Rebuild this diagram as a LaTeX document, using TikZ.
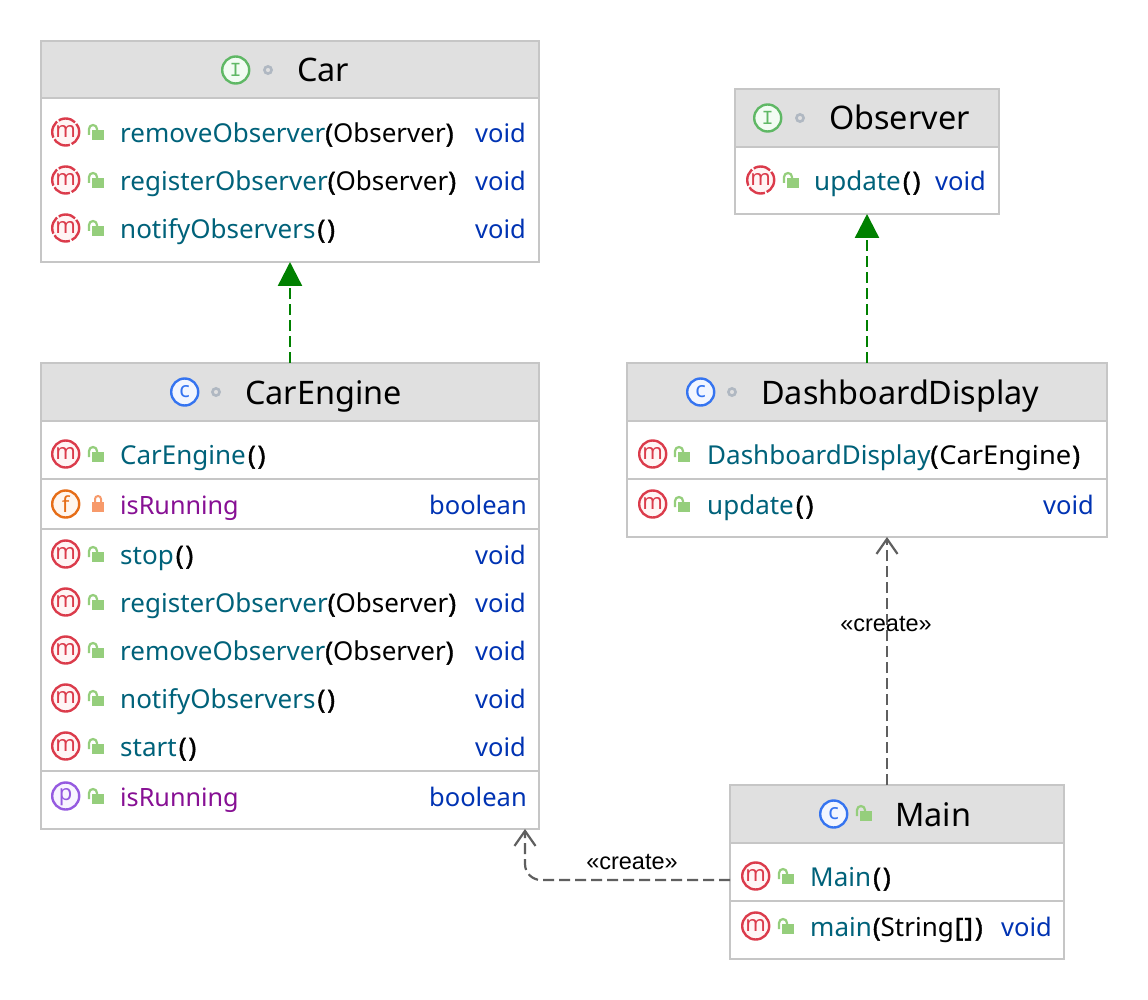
\documentclass[tikz,border=0pt]{standalone}
\usepackage{fontspec}
\setmainfont{Noto Sans}
\newfontfamily\labelfont{Liberation Sans}
\newfontfamily\ifamily{Liberation Mono}
\newfontfamily\heavy[FakeBold=1.5]{Noto Sans}
\usetikzlibrary{arrows.meta,calc}
\definecolor{boxline}{HTML}{C6C6C6}
\definecolor{headfill}{HTML}{E0E0E0}
\definecolor{mname}{HTML}{00627A}
\definecolor{fname}{HTML}{871094}
\definecolor{tname}{HTML}{0033B3}
\definecolor{mred}{HTML}{DB3B4B}
\definecolor{mfill}{HTML}{FFF5F5}
\definecolor{ford}{HTML}{E66D17}
\definecolor{ffill}{HTML}{FFF6EE}
\definecolor{pvio}{HTML}{955AE0}
\definecolor{pfill}{HTML}{F8F4FF}
\definecolor{cblue}{HTML}{3574F0}
\definecolor{cfill}{HTML}{F2F6FF}
\definecolor{igreen}{HTML}{5FB865}
\definecolor{ifill}{HTML}{F2FCF3}
\definecolor{lockg}{HTML}{95CE7C}
\definecolor{locko}{HTML}{F79A6B}
\definecolor{dotc}{HTML}{B0B8C2}
\definecolor{realize}{HTML}{008000}
\definecolor{depc}{HTML}{5F5F5F}
\tikzset{
  x=1pt,y=-1pt,
  classbox/.style={draw=boxline,line width=1.3pt,fill=white,inner sep=0pt,outer sep=0pt,anchor=north west},
  headbox/.style={draw=boxline,line width=2pt,fill=headfill,inner sep=0pt,outer sep=0pt,anchor=north west},
  sepline/.style={draw=boxline,line width=2pt},
  ttl/.style={anchor=base west,inner sep=0pt,font=\fontsize{32.4}{36}\selectfont},
  rowtext/.style={anchor=base west,inner sep=0pt,font=\fontsize{26}{30}\selectfont},
  fieldtext/.style={anchor=base west,inner sep=0pt,font=\fontsize{25.2}{30}\selectfont,text=fname},
  typetext/.style={anchor=base west,inner sep=0pt,font=\fontsize{25.5}{30}\selectfont,text=tname},
  lettertext/.style={inner sep=0pt,font=\fontsize{22}{24}\selectfont},
  dep/.style={draw=depc,line width=2.2pt,dash pattern=on 11pt off 5pt,-{Straight Barb[length=15pt,width=21pt,line width=2.2pt]}},
  real/.style={draw=realize,line width=2.4pt,dash pattern=on 11pt off 5pt,-{Triangle[length=24pt,width=24pt]}},
  deplabel/.style={inner sep=0pt,font=\labelfont\fontsize{23.5}{26}\selectfont},
  abstr/.style={dash pattern=on 17.6pt off 2pt,dash phase=8.8pt},
}
% #1 x, #2 y, #3 stroke, #4 fill, #5 letter, #6 extra style
\newcommand{\ico}[6]{\node[circle,draw=#3,fill=#4,line width=2.4pt,minimum size=27pt,inner sep=0pt,#6] (ic-#1-#2) at (#1+0.7,#2-1) {};
  \node[lettertext,text=#3] (il-#1-#2) at (#1+0.7,#2-1.2) {#5};}
\newcommand{\lockopen}[2]{\fill[lockg] (#1+7,#2-3) rectangle (#1+19,#2+7);
  \draw[lockg,line width=2.2pt] (#1+4,#2+2) -- (#1+4,#2-4) arc[start angle=180,end angle=0,x radius=4,y radius=-4] -- (#1+12,#2-3);}
\newcommand{\lockshut}[2]{\fill[locko] (#1+7,#2-3) rectangle (#1+19,#2+7);
  \draw[locko,line width=2pt] (#1+10,#2-3) -- (#1+10,#2-6) arc[start angle=180,end angle=0,x radius=3,y radius=-3] -- (#1+16,#2-3);}
\newcommand{\dotmark}[2]{\draw[dotc,line width=2.6pt] (#1,#2) circle[radius=3.6];}
\newcommand{\rowt}[4]{\node[rowtext,text=#4] (t-#1-#2) at (#1,#2+9.5) {#3};}
\newcommand{\fieldt}[3]{\node[fieldtext] (f-#1-#2) at (#1,#2+9.5) {#3};}
\newcommand{\typet}[3]{\node[typetext] (ty-#1-#2) at (#1,#2+9.5) {#3};}
\newcommand{\pp}[1]{\textcolor{black}{#1}}
\newcommand{\emp}{\kern2pt{\heavy(\kern2pt)}}
\newcommand{\wrap}[1]{{\heavy(}#1{\heavy)}}
\begin{document}
\begin{tikzpicture}
\useasboundingbox (0,0) rectangle (1148,1000);
\fill[white] (0,0) rectangle (1148,1000);

% ---------- boxes
\node[classbox,minimum width=498pt,minimum height=221pt] (car) at (41,41) {};
\node[headbox,minimum width=498pt,minimum height=57pt] (carh) at (41,41) {};
\node[classbox,minimum width=264pt,minimum height=125pt] (obs) at (735,89) {};
\node[headbox,minimum width=264pt,minimum height=58pt] (obsh) at (735,89) {};
\node[classbox,minimum width=498pt,minimum height=466pt] (eng) at (41,363) {};
\node[headbox,minimum width=498pt,minimum height=58pt] (engh) at (41,363) {};
\node[classbox,minimum width=480pt,minimum height=174pt] (dash) at (627,363) {};
\node[headbox,minimum width=480pt,minimum height=58pt] (dashh) at (627,363) {};
\node[classbox,minimum width=334pt,minimum height=174pt] (main) at (730,785) {};
\node[headbox,minimum width=334pt,minimum height=58pt] (mainh) at (730,785) {};

% ---------- separators
\draw[sepline] (41,479) -- (539,479);
\draw[sepline] (41,529) -- (539,529);
\draw[sepline] (41,771) -- (539,771);
\draw[sepline] (627,479) -- (1107,479);
\draw[sepline] (730,901) -- (1064,901);

% ---------- titles
\ico{235}{71}{igreen}{ifill}{\ifamily\fontsize{20}{22}\selectfont I}{}
\dotmark{268}{70}
\node[ttl] (tcar) at (297,82) {Car};
\ico{767}{119}{igreen}{ifill}{\ifamily\fontsize{20}{22}\selectfont I}{}
\dotmark{800}{118}
\node[ttl] (tobs) at (829,130) {Observer};
\ico{184}{393}{cblue}{cfill}{c}{}
\dotmark{216}{392}
\node[ttl] (teng) at (245,404) {CarEngine};
\ico{700}{393}{cblue}{cfill}{c}{}
\dotmark{732}{392}
\node[ttl] (tdash) at (761,404) {DashboardDisplay};
\ico{833}{815}{cblue}{cfill}{c}{}
\lockopen{853}{814}
\node[ttl] (tmain) at (895,826) {Main};

% ---------- Car members
\foreach \yy/\nm/\suf in {133/removeObserver/\wrap{Observer},181/registerObserver/\wrap{Observer},229/notifyObservers/\emp}{
  \ico{65}{\yy}{mred}{mfill}{m}{abstr}
  \lockopen{85}{\yy}
  \rowt{120}{\yy}{\nm\pp{\suf}}{mname}
  \typet{475}{\yy}{void}
}
% ---------- Observer members
\ico{760}{181}{mred}{mfill}{m}{abstr}
\lockopen{780}{181}
\rowt{814}{181}{update\pp{\emp}}{mname}
\typet{935}{181}{void}

% ---------- CarEngine members
\ico{65}{455}{mred}{mfill}{m}{}
\lockopen{85}{455}
\rowt{120}{455}{CarEngine\pp{\emp}}{mname}
\ico{65}{505}{ford}{ffill}{f}{}
\lockshut{85}{505}
\fieldt{120}{505}{isRunning}
\typet{429}{505}{boolean}
\foreach \yy/\nm/\suf in {555/stop/\emp,603/registerObserver/\wrap{Observer},651/removeObserver/\wrap{Observer},699/notifyObservers/\emp,747/start/\emp}{
  \ico{65}{\yy}{mred}{mfill}{m}{}
  \lockopen{85}{\yy}
  \rowt{120}{\yy}{\nm\pp{\suf}}{mname}
  \typet{475}{\yy}{void}
}
\node[circle,draw=pvio,fill=pfill,line width=2.4pt,minimum size=27pt,inner sep=0pt] (ic-p) at (65.7,796) {};
\node[lettertext,text=pvio] (il-p) at (65.7,797.5) {p};
\lockopen{85}{797}
\fieldt{120}{797}{isRunning}
\typet{429}{797}{boolean}

% ---------- DashboardDisplay members
\ico{652}{455}{mred}{mfill}{m}{}
\lockopen{671}{455}
\rowt{707}{455}{DashboardDisplay\pp{\wrap{\kern1pt\scalebox{1.05}[1]{CarEngine}\kern1pt}}}{mname}
\ico{652}{505}{mred}{mfill}{m}{}
\lockopen{671}{505}
\rowt{707}{505}{update\pp{\emp}}{mname}
\typet{1043}{505}{void}

% ---------- Main members
\ico{755}{877}{mred}{mfill}{m}{}
\lockopen{775}{877}
\rowt{810}{877}{Main\pp{\emp}}{mname}
\ico{755}{927}{mred}{mfill}{m}{}
\lockopen{775}{927}
\rowt{810}{927}{main\pp{\kern1pt{\heavy(}String\kern1pt{\heavy[\kern1pt]\kern2pt)}}}{mname}
\typet{1001}{927}{void}

% ---------- connectors
\draw[real] (eng.north) -- (car.south);
\draw[real] (dashh.north) -- (obs.south);
\draw[dep] ([xshift=-10pt]main.north) -- ([xshift=20pt]dash.south);
\draw[dep,rounded corners=16pt] ([yshift=-66pt]mainh.west) -- ([yshift=-51pt,xshift=-14pt]eng.south east) -- ([xshift=-14pt]eng.south east);
\node[deplabel] (lbl1) at (886,624) {«create»};
\node[deplabel] (lbl2) at (632,862) {«create»};
\end{tikzpicture}
\end{document}
